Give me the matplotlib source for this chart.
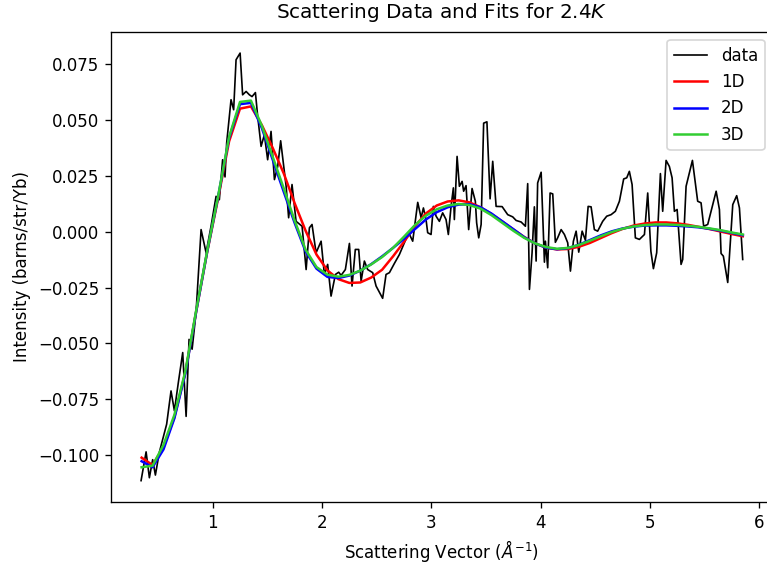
import numpy as np
import matplotlib
matplotlib.use("Agg")
import matplotlib.pyplot as plt

q_data = [0.345, 0.391, 0.421, 0.451, 0.476, 0.512, 0.543, 0.579, 0.619, 0.650,
          0.686, 0.726, 0.757, 0.784, 0.812, 0.848, 0.894, 0.940, 0.985, 1.031,
          1.061, 1.091, 1.113, 1.128, 1.168, 1.192, 1.214, 1.251, 1.274, 1.306,
          1.336, 1.360, 1.391, 1.412, 1.443, 1.473, 1.503, 1.534, 1.565, 1.595,
          1.622, 1.672, 1.695, 1.726, 1.763, 1.818, 1.855, 1.885, 1.909, 1.946,
          1.992, 2.022, 2.052, 2.083, 2.123, 2.153, 2.175, 2.214, 2.251, 2.275,
          2.305, 2.336, 2.358, 2.388, 2.418, 2.464, 2.495, 2.555, 2.586, 2.617,
          2.662, 2.708, 2.754, 2.793, 2.830, 2.876, 2.907, 2.928, 2.952, 2.967,
          2.998, 3.019, 3.044, 3.074, 3.104, 3.135, 3.156, 3.181, 3.202, 3.211,
          3.236, 3.257, 3.282, 3.296, 3.318, 3.342, 3.373, 3.403, 3.415, 3.434,
          3.456, 3.479, 3.509, 3.538, 3.562, 3.593, 3.648, 3.699, 3.745, 3.776,
          3.822, 3.861, 3.882, 3.898, 3.922, 3.943, 3.959, 3.973, 4.005, 4.035,
          4.044, 4.065, 4.087, 4.111, 4.135, 4.156, 4.188, 4.218, 4.248, 4.273,
          4.300, 4.325, 4.349, 4.380, 4.410, 4.435, 4.462, 4.492, 4.522, 4.568,
          4.605, 4.645, 4.684, 4.721, 4.760, 4.788, 4.812, 4.837, 4.867, 4.904,
          4.950, 4.980, 5.009, 5.032, 5.062, 5.096, 5.117, 5.148, 5.178, 5.203,
          5.224, 5.249, 5.285, 5.300, 5.331, 5.389, 5.437, 5.468, 5.492, 5.529,
          5.606, 5.636, 5.651, 5.672, 5.712, 5.758, 5.794, 5.819, 5.849]
i_data = [-0.1115, -0.0986, -0.1102, -0.1021, -0.1090, -0.0988, -0.0929, -0.0862, -0.0713, -0.0802,
          -0.0675, -0.0541, -0.0827, -0.0482, -0.0526, -0.0361, 0.0010, -0.0094, 0.0025, 0.0159,
          0.0144, 0.0323, 0.0246, 0.0398, 0.0592, 0.0547, 0.0771, 0.0801, 0.0614, 0.0629,
          0.0614, 0.0606, 0.0624, 0.0517, 0.0383, 0.0435, 0.0323, 0.0450, 0.0234, 0.0293,
          0.0408, 0.0204, 0.0063, 0.0212, 0.0047, 0.0025, -0.0169, 0.0018, 0.0033, -0.0094,
          -0.0042, -0.0191, -0.0146, -0.0288, -0.0191, -0.0181, -0.0195, -0.0169, -0.0052, -0.0243,
          -0.0079, -0.0079, -0.0221, -0.0131, -0.0169, -0.0183, -0.0243, -0.0298, -0.0191, -0.0183,
          -0.0142, -0.0102, -0.0049, -0.0004, -0.0042, 0.0132, 0.0063, 0.0107, 0.0055, -0.0004,
          -0.0012, 0.0114, 0.0070, 0.0047, 0.0085, 0.0055, -0.0012, 0.0114, 0.0197, 0.0055,
          0.0338, 0.0204, 0.0226, 0.0182, 0.0207, 0.0010, 0.0194, 0.0137, 0.0040, -0.0027,
          0.0033, 0.0487, 0.0493, 0.0148, 0.0316, 0.0114, 0.0113, 0.0077, 0.0067, 0.0051,
          0.0044, 0.0025, 0.0216, -0.0258, -0.0094, 0.0112, -0.0131, 0.0219, 0.0267, -0.0136,
          -0.0042, -0.0161, 0.0174, 0.0170, -0.0047, -0.0027, 0.0010, -0.0012, -0.0049, -0.0176,
          -0.0042, 0.0003, -0.0091, 0.0003, -0.0038, 0.0114, 0.0112, 0.0010, 0.0003, 0.0047,
          0.0070, 0.0077, 0.0092, 0.0137, 0.0237, 0.0242, 0.0271, 0.0212, -0.0027, -0.0034,
          -0.0012, 0.0174, -0.0087, -0.0165, -0.0094, 0.0261, 0.0092, 0.0320, 0.0293, 0.0242,
          0.0092, 0.0100, -0.0146, -0.0124, 0.0204, 0.0320, 0.0137, 0.0130, 0.0025, 0.0033,
          0.0182, 0.0100, -0.0097, -0.0109, -0.0227, 0.0122, 0.0162, 0.0107, -0.0124]

# fitted curves, sampled every 0.1
q_fit = np.arange(0.35, 5.86, 0.1)
fit_1d = [-0.1012, -0.1045, -0.0965, -0.0830, -0.0630, -0.0355, -0.0090, 0.0150, 0.0405, 0.0552,
          0.0562, 0.0478, 0.0375, 0.0262, 0.0128, 0.0005, -0.0102, -0.0173, -0.0212, -0.0229,
          -0.0227, -0.0205, -0.0170, -0.0110, -0.0045, 0.0025, 0.0082, 0.0118, 0.0136, 0.0141,
          0.0132, 0.0110, 0.0080, 0.0046, 0.0011, -0.0023, -0.0052, -0.0071, -0.0079, -0.0077,
          -0.0067, -0.0050, -0.0028, -0.0006, 0.0013, 0.0028, 0.0037, 0.0042, 0.0042, 0.0038,
          0.0031, 0.0022, 0.0012, 0.0001, -0.0010, -0.0020]
fit_2d = [-0.1028, -0.1055, -0.0975, -0.0835, -0.0635, -0.0355, -0.0088, 0.0158, 0.0420, 0.0572,
          0.0578, 0.0465, 0.0322, 0.0180, 0.0040, -0.0088, -0.0165, -0.0202, -0.0207, -0.0196,
          -0.0174, -0.0145, -0.0110, -0.0072, -0.0032, 0.0012, 0.0055, 0.0088, 0.0110, 0.0122,
          0.0124, 0.0110, 0.0082, 0.0047, 0.0012, -0.0024, -0.0052, -0.0071, -0.0078, -0.0073,
          -0.0058, -0.0037, -0.0016, 0.0002, 0.0015, 0.0023, 0.0028, 0.0029, 0.0029, 0.0027,
          0.0024, 0.0020, 0.0013, 0.0005, -0.0005, -0.0015]
fit_3d = [-0.1055, -0.1048, -0.0955, -0.0820, -0.0625, -0.0350, -0.0085, 0.0160, 0.0425, 0.0582,
          0.0588, 0.0475, 0.0335, 0.0195, 0.0050, -0.0080, -0.0158, -0.0192, -0.0201, -0.0193,
          -0.0174, -0.0146, -0.0113, -0.0072, -0.0022, 0.0030, 0.0072, 0.0101, 0.0118, 0.0125,
          0.0120, 0.0104, 0.0075, 0.0040, 0.0005, -0.0027, -0.0052, -0.0068, -0.0076, -0.0072,
          -0.0059, -0.0040, -0.0020, -0.0001, 0.0014, 0.0024, 0.0030, 0.0033, 0.0033, 0.0031,
          0.0027, 0.0022, 0.0015, 0.0007, -0.0003, -0.0012]

fig = plt.figure(figsize=(767 / 120, 563 / 120), dpi=120)
ax = fig.add_axes([0.1447, 0.1083, 0.863, 0.8354])

ax.plot(q_data, i_data, color='k', linewidth=1, label='data')
ax.plot(q_fit, fit_1d, color='r', linewidth=1.5, label='1D')
ax.plot(q_fit, fit_2d, color='b', linewidth=1.5, label='2D')
ax.plot(q_fit, fit_3d, color='limegreen', linewidth=1.5, label='3D')

ax.set_xlabel("Scattering Vector ($Å^{-1}$)")
ax.set_ylabel("Intensity (barns/str/Yb)")
ax.set_title("Scattering Data and Fits for 2.4$K$", pad=8)
ax.legend(loc='upper right')

fig.savefig("out.png", dpi=120)
